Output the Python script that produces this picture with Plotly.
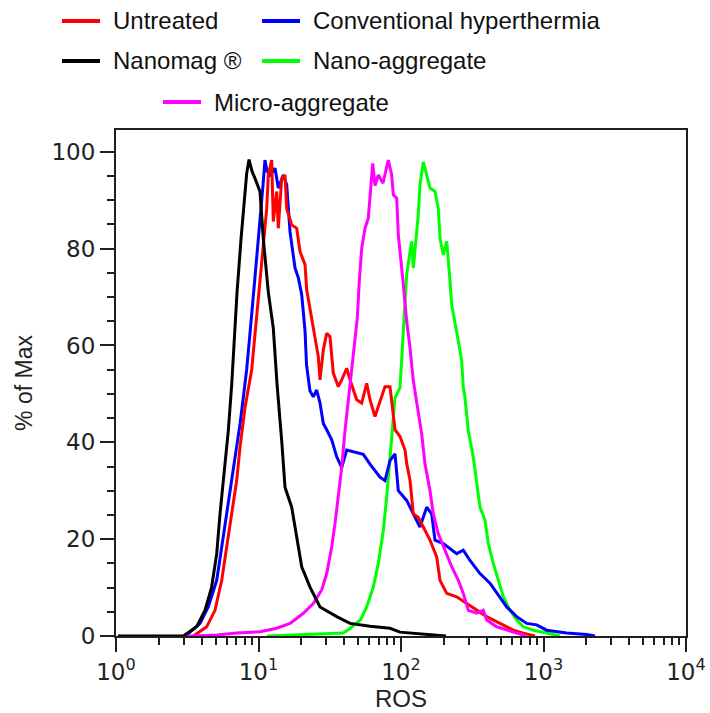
import plotly.graph_objects as go

# ---- data (ROS intensity, % of Max) ----
untreated_x = [3.49, 4.33, 4.95, 5.52, 5.98, 6.48, 7.03, 7.42, 8.04, 8.96, 9.71, 10.41, 10.81, 11.42,
               11.72, 12.38, 12.70, 13.42, 13.77, 14.55, 15.35, 15.77, 17.10, 18.54, 19.56, 21.21,
               21.79, 22.98, 24.24, 26.28, 27.02, 28.50, 30.10, 31.75, 33.48, 36.31, 38.36, 41.59,
               43.86, 46.27, 48.88, 53.00, 57.44, 60.60, 65.69, 69.30, 77.20, 83.72, 86.05, 90.76,
               98.40, 106.7, 109.6, 115.7, 122.0, 132.2, 143.4, 159.8, 178.1, 187.8, 209.3, 246.0,
               289.1, 339.8, 399.3, 495.2, 614.1, 721.5, 871.8]
untreated_y = [0, 1.9, 5.3, 11.5, 18.4, 25.2, 32.1, 39, 47.2, 55, 66.4, 76, 81.5, 88.3,
               95.2, 98.3, 85.6, 91.8, 84.2, 94.5, 95.2, 88.3, 84.9, 84.2, 79.4, 76.7,
               71.5, 67.4, 63.9, 57.7, 52.9, 59.1, 62.5, 61.8, 54.3, 51.5, 52.9, 55.3,
               52.9, 50.8, 48.8, 48.1, 52.2, 48.8, 45.3, 47.4, 51.5, 51.5, 48.1, 42.6,
               41.2, 38.4, 35.7, 32.1, 25.2, 24.5, 22.5, 19.8, 16.3, 11.5, 8.8, 8.1,
               6.7, 5.3, 4.0, 2.6, 1.2, 0.6, 0]

conventional_x = [3.08, 3.89, 4.44, 5.09, 5.52, 5.98, 6.48, 7.03, 7.42, 7.82, 8.26, 8.96, 9.60,
                  10.24, 10.75, 11.10, 11.47, 12.04, 13.06, 13.77, 14.93, 15.77, 16.64, 18.04,
                  19.03, 20.10, 21.21, 21.73, 22.98, 24.24, 25.61, 27.02, 28.50, 30.10, 32.64,
                  35.39, 38.36, 41.59, 48.88, 54.37, 60.60, 71.22, 77.20, 83.72, 90.76, 95.74,
                  109.6, 122.0, 135.9, 151.5, 164.2, 173.2, 198.1, 246.0, 273.6, 304.9, 358.4,
                  421.2, 495.2, 551.8, 648.6, 762.4, 896.1, 1053, 1455, 2010, 2298]
conventional_y = [0, 2.6, 6, 11.5, 18.4, 25.2, 32.1, 39, 43.8, 49.2, 55, 66.4, 76,
                  86.3, 93, 98.3, 96, 95.2, 96.6, 92.5, 95.2, 93.2, 83.5, 76,
                  74, 70.5, 63, 56, 50.6, 49.4, 50.8, 48.1, 43.9, 42.6, 40.5,
                  37, 34.8, 38.4, 37.9, 37.5, 35.5, 32.8, 32.1, 36.2, 37.6, 30,
                  28, 25.2, 22.5, 26.6, 25.2, 19.8, 19.1, 17, 17.7, 15.6, 12.9,
                  10.9, 8.1, 6, 4, 2.6, 2.3, 1.2, 0.6, 0.3, 0]

nanomag_x = [1.03, 2.97, 3.68, 4.21, 4.69, 5.09, 5.37, 5.82, 6.14, 6.49, 7.07, 7.54, 7.91, 8.26,
             8.58, 9.00, 9.45, 10.24, 10.81, 11.72, 12.70, 13.49, 14.55, 15.35, 17.10, 18.54,
             20.10, 22.98, 27.02, 35.39, 43.86, 60.60, 83.72, 98.4, 135.9, 206.9]
nanomag_y = [0, 0, 1.9, 5.3, 10.1, 17, 25.2, 35.5, 42.4, 52, 71, 82, 89.7, 95.5,
             98.4, 96, 94.5, 91.8, 82, 71, 63.6, 52, 40.3, 30.7, 26.6, 20.4,
             14.3, 10.1, 6.0, 4.0, 2.6, 2.0, 1.6, 0.8, 0.5, 0]

nano_agg_x = [11.47, 17.92, 33.60, 39.37, 43.16, 48.88, 52.14, 57.44, 63.90, 69.30, 75.12, 79.36,
              82.78, 86.05, 90.76, 98.40, 101.1, 103.8, 106.7, 109.6, 115.7, 118.9, 122.0, 125.4,
              132.2, 135.9, 143.4, 151.5, 159.8, 173.2, 182.7, 187.8, 198.1, 209.3, 214.8, 220.8,
              226.9, 239.3, 252.5, 266.7, 273.6, 281.2, 296.7, 321.7, 339.8, 358.4, 388.6, 409.9,
              444.3, 481.7, 522.3, 582.1, 648.6, 721.5, 848.1, 1053, 1305]
nano_agg_y = [0, 0.2, 0.6, 0.6, 1.4, 2.6, 3.4, 6, 10.1, 15, 21.8, 28.7,
              35.5, 42.4, 49.2, 51.3, 57.5, 62.3, 67.8, 74.6, 79.4, 81.5, 76, 80.1,
              87, 93.2, 97.9, 95.2, 92.5, 91.8, 88.3, 82.2, 78.7, 81.5, 78, 73.3,
              68.4, 65, 60.9, 56.8, 51.3, 49.2, 42.4, 36.9, 32.1, 26.6, 23.9, 19.1,
              15, 11.5, 8.1, 5.3, 3.3, 1.9, 1.2, 0.6, 0]

micro_agg_x = [3.08, 3.49, 5.09, 7.03, 10.24, 13.42, 16.64, 20.63, 24.24, 27.77, 30.10, 32.64,
               34.43, 36.31, 38.36, 40.46, 42.68, 45.08, 47.56, 49.36, 50.98, 53.00, 55.90, 58.95,
               63.31, 65.69, 69.30, 74.76, 81.45, 86.05, 88.31, 93.28, 95.74, 101.1, 103.8, 109.6,
               115.7, 122.0, 128.9, 139.8, 147.4, 159.8, 168.5, 182.7, 203.6, 226.9, 252.5, 273.6,
               296.7, 339.8, 378.0, 399.3, 469.5, 551.8, 648.6, 766.0]
micro_agg_y = [0, 0, 0.2, 0.6, 0.9, 1.6, 2.6, 4.7, 6.7, 9.5, 12.9, 18.4,
               23.2, 28.7, 34.8, 42.4, 48.6, 54, 60.9, 65.7, 73.3, 80.1, 84.2, 86.3,
               97.6, 93, 95.2, 93.5, 98.3, 95.2, 91.1, 90.4, 82.9, 76.7, 72.6, 65,
               59.5, 52.7, 48.6, 41.7, 35.5, 30, 25.2, 21.1, 17.7, 14.3, 11.5, 8.8,
               5.3, 4.7, 5.3, 3.3, 1.9, 1.2, 0.6, 0]

series_names = ["Untreated", "Conventional hyperthermia", "Nanomag \u00ae", "Nano-aggregate", "Micro-aggregate"]
series_colors = ["#ff0000", "#0000ff", "#000000", "#00ff00", "#ff00ff"]
series_data = [(untreated_x, untreated_y), (conventional_x, conventional_y), (nanomag_x, nanomag_y),
               (nano_agg_x, nano_agg_y), (micro_agg_x, micro_agg_y)]

x_tick_vals = [1, 10, 100, 1000, 10000]
x_tick_text = ["10<sup>0</sup>", "10<sup>1</sup>", "10<sup>2</sup>", "10<sup>3</sup>", "10<sup>4</sup>"]

fig = go.Figure()
draw_order = [3, 1, 0, 4, 2]  # green, blue, red, magenta, black on top
for i in draw_order:
    xs, ys = series_data[i]
    fig.add_trace(go.Scatter(x=xs, y=ys, mode="lines", name=series_names[i],
                             line=dict(color=series_colors[i], width=3),
                             showlegend=False))

# custom legend laid out as in the reference (2 columns + centred last row)
legend_rows = [(0, 0, 0), (1, 1, 0), (2, 0, 1), (3, 1, 1), (4, 2, 2)]
col_line_x = {0: (62, 100), 1: (262, 300), 2: (163, 201)}
row_y = {0: 21, 1: 61, 2: 102}
W, H = 710, 713
L, R, T, B = 116, 24, 130, 77
pw, ph = W - L - R, H - T - B
def px_to_paper_x(px):
    return (px - L) / pw
def px_to_paper_y(py):
    return (H - B - py) / ph
for idx, col, row in legend_rows:
    x0, x1 = col_line_x[col]
    yy = px_to_paper_y(row_y[row])
    fig.add_shape(type="line", xref="paper", yref="paper",
                  x0=px_to_paper_x(x0), x1=px_to_paper_x(x1), y0=yy, y1=yy,
                  line=dict(color=series_colors[idx], width=4))
    fig.add_annotation(xref="paper", yref="paper", x=px_to_paper_x(x1 + 11), y=yy,
                       text=series_names[idx], showarrow=False, xanchor="left", yanchor="middle",
                       font=dict(family="Liberation Sans, Arial", size=24, color="#111111"))

axis_color = "#1f1f1f"
minor_x = [k * 10 ** d for d in range(4) for k in range(2, 10)]
fig.update_xaxes(type="log", range=[0, 4], tickvals=x_tick_vals, ticktext=x_tick_text,
                 ticks="outside", ticklen=14, tickwidth=2, tickcolor=axis_color,
                 showline=True, linewidth=2, linecolor=axis_color, mirror=True,
                 showgrid=False, zeroline=False,
                 minor=dict(ticks="outside", ticklen=7, tickwidth=2, tickcolor=axis_color,
                            tickvals=minor_x, showgrid=False),
                 tickfont=dict(family="DejaVu Sans", size=23, color="#222222"),
                 title=dict(text="ROS", font=dict(family="Liberation Sans, Arial", size=24, color="#222222"),
                            standoff=2))
fig.update_yaxes(range=[0, 104.5], tickvals=[0, 20, 40, 60, 80, 100],
                 ticks="outside", ticklen=14, tickwidth=2, tickcolor=axis_color,
                 showline=True, linewidth=2, linecolor=axis_color, mirror=True,
                 showgrid=False, zeroline=False,
                 minor=dict(ticks="outside", ticklen=7, tickwidth=2, tickcolor=axis_color,
                            dtick=5, showgrid=False),
                 tickfont=dict(family="DejaVu Sans", size=23, color="#222222"),
                 title=dict(text="% of Max", font=dict(family="Liberation Sans, Arial", size=23, color="#222222"),
                            standoff=12))
fig.update_layout(width=W, height=H, margin=dict(l=L, r=R, t=T, b=B, autoexpand=False),
                  plot_bgcolor="white", paper_bgcolor="white", showlegend=False)
fig.write_html("out.html")
